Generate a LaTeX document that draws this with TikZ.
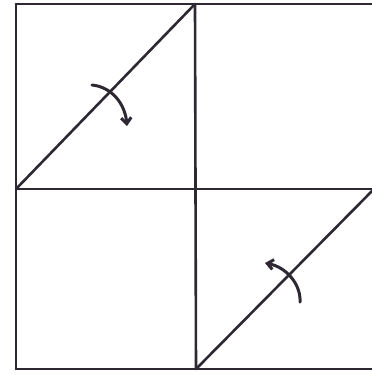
\documentclass[tikz,border=0pt]{standalone}
\usetikzlibrary{arrows.meta}
\definecolor{pencil}{RGB}{45,40,50}
\begin{document}
\begin{tikzpicture}[x=1pt, y=-1pt,
  edge/.style={draw=pencil, line width=2.6pt, line cap=round},
  fold/.style={draw=pencil, line width=3pt, line cap=round,
    -{Straight Barb[length=6pt, width=10pt]}}
]
  \useasboundingbox (0,0) rectangle (372,375);
  % grid corners
  \coordinate (tl) at (16,4);   \coordinate (tm) at (195,4);   \coordinate (tr) at (374,4);
  \coordinate (ml) at (16,189); \coordinate (mm) at (195,189); \coordinate (mr) at (374,189);
  \coordinate (bl) at (16,369); \coordinate (bm) at (196,369); \coordinate (br) at (374,369);
  % squares
  \draw[edge] (tl) -- (tr);
  \draw[edge] (ml) -- (mr);
  \draw[edge] (bl) -- (br);
  \draw[edge] (tl) -- (bl);
  \draw[edge] (tm) -- (bm);
  % diagonals
  \draw[edge] (ml) -- (tm);
  \draw[edge] (bm) -- (mr);
  % turning arrows
  \coordinate (a1) at (92,85);   \coordinate (a2) at (127,126);
  \coordinate (b1) at (300,302); \coordinate (b2) at (265,263);
  \draw[fold] (a1) .. controls (112,87) and (125,104) .. (a2);
  \draw[fold] (b1) .. controls (301,284) and (286,267) .. (b2);
\end{tikzpicture}
\end{document}
